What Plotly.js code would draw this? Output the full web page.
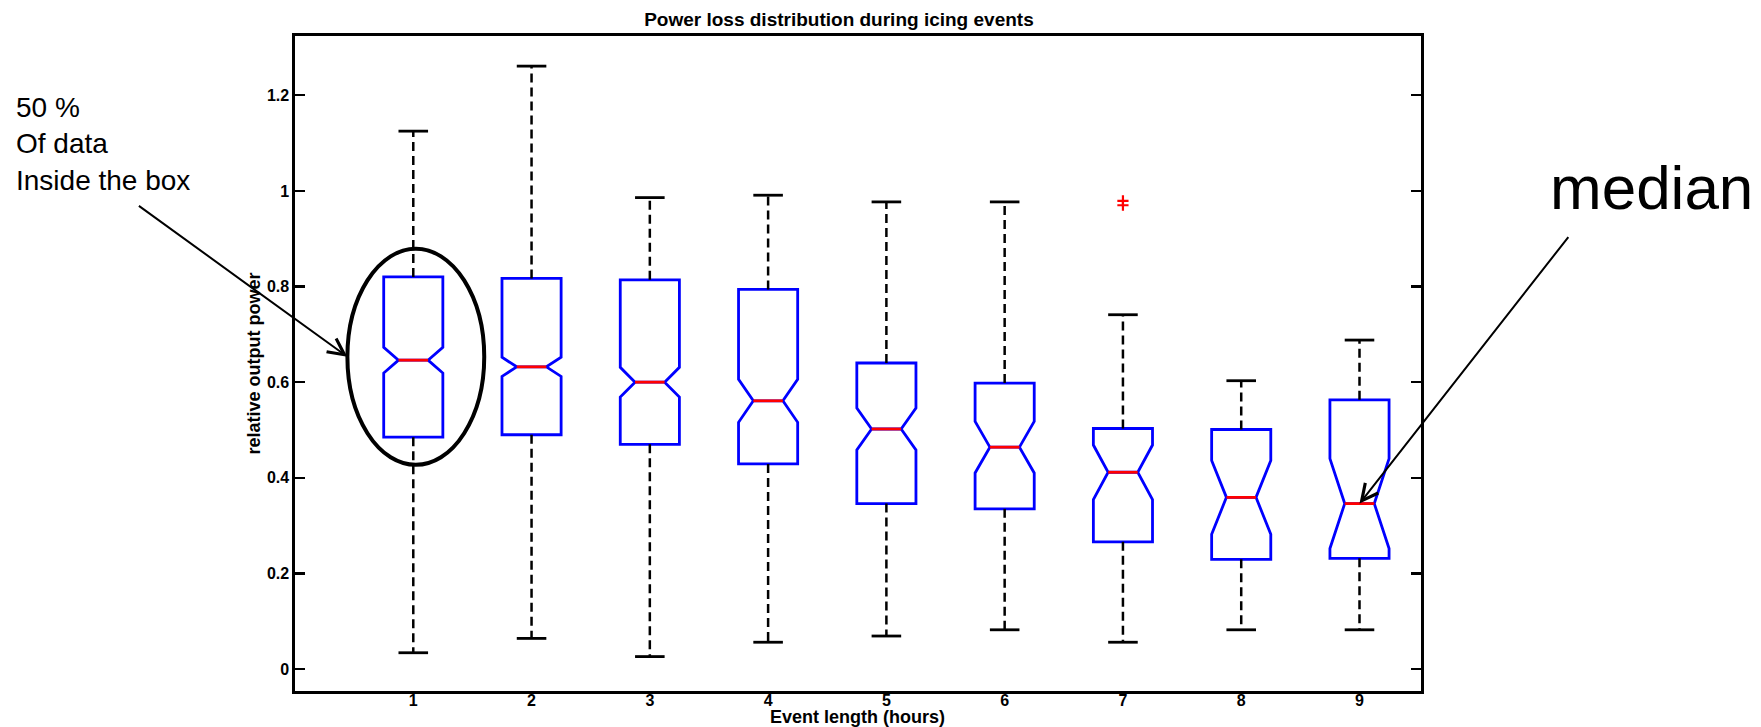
<!DOCTYPE html>
<html>
<head>
<meta charset="utf-8">
<script src="https://cdn.plot.ly/plotly-3.0.1.min.js"></script>
<style>
  html, body { margin: 0; padding: 0; background: #fff; }
  #chart { width: 1761px; height: 727px; }
</style>
</head>
<body>
<div id="chart"></div>
<script>
// ---- data ----
const categories = [1, 2, 3, 4, 5, 6, 7, 8, 9];
const upperWhisker = [1.125, 1.261, 0.986, 0.991, 0.977, 0.977, 0.741, 0.603, 0.688];
const q3Values     = [0.820, 0.817, 0.814, 0.794, 0.640, 0.598, 0.503, 0.501, 0.563];
const medianValues = [0.646, 0.632, 0.600, 0.561, 0.502, 0.464, 0.4115, 0.359, 0.346];
const q1Values     = [0.485, 0.490, 0.470, 0.429, 0.346, 0.335, 0.266, 0.2295, 0.2316];
const lowerWhisker = [0.034, 0.064, 0.026, 0.056, 0.069, 0.082, 0.056, 0.082, 0.082];
const notchSpans   = [0.027, 0.020, 0.031, 0.045, 0.044, 0.054, 0.057, 0.077, 0.094];
const outlierX = [7, 7];
const outlierY = [0.979, 0.970];
const yTickVals = [0, 0.2, 0.4, 0.6, 0.8, 1, 1.2];
const yTickText = ['0', '0.2', '0.4', '0.6', '0.8', '1', '1.2'];

// ---- styling constants ----
const BOX_WIDTH = 0.5;
const NOTCH_WIDTH = 0.25;
const CAP_HALF = BOX_WIDTH / 4;
const MED_HALF = (BOX_WIDTH / 2) * (1 - 2 * NOTCH_WIDTH);
const FONT = 'Liberation Sans, Arial, sans-serif';

// whiskers (dashed) built from the arrays
const wx = [], wy = [];
categories.forEach((c, i) => {
  wx.push(c, c, null, c, c, null);
  wy.push(q3Values[i], upperWhisker[i], null, q1Values[i], lowerWhisker[i], null);
});
// caps
const cx = [], cy = [];
categories.forEach((c, i) => {
  cx.push(c - CAP_HALF, c + CAP_HALF, null, c - CAP_HALF, c + CAP_HALF, null);
  cy.push(upperWhisker[i], upperWhisker[i], null, lowerWhisker[i], lowerWhisker[i], null);
});
// medians
const mx = [], my = [];
categories.forEach((c, i) => {
  mx.push(c - MED_HALF, c + MED_HALF, null);
  my.push(medianValues[i], medianValues[i], null);
});

const traces = [
  {
    type: 'scatter', mode: 'lines', x: wx, y: wy,
    line: { color: 'black', width: 2.5, dash: '9px,5px' },
    hoverinfo: 'skip', showlegend: false
  },
  {
    type: 'box',
    x: categories,
    q1: q1Values,
    median: medianValues,
    q3: q3Values,
    lowerfence: q1Values,
    upperfence: q3Values,
    notched: true,
    notchspan: notchSpans,
    notchwidth: NOTCH_WIDTH,
    width: BOX_WIDTH,
    whiskerwidth: 0,
    boxpoints: false,
    line: { color: 'rgb(0,0,255)', width: 2.8 },
    fillcolor: 'rgba(0,0,0,0)',
    hoverinfo: 'skip',
    showlegend: false
  },
  {
    type: 'scatter', mode: 'lines', x: cx, y: cy,
    line: { color: 'black', width: 2.8 },
    hoverinfo: 'skip', showlegend: false
  },
  {
    type: 'scatter', mode: 'lines', x: mx, y: my,
    line: { color: 'rgb(255,0,0)', width: 2.8 },
    hoverinfo: 'skip', showlegend: false
  },
  {
    type: 'scatter', mode: 'markers', x: outlierX, y: outlierY,
    marker: { symbol: 'cross-thin', size: 8, color: 'rgb(255,0,0)', line: { color: 'rgb(255,0,0)', width: 2.2 } },
    hoverinfo: 'skip', showlegend: false
  }
];

const layout = {
  width: 1761,
  height: 727,
  paper_bgcolor: 'white',
  plot_bgcolor: 'white',
  margin: { l: 295, r: 340, t: 36, b: 36, pad: 0 },
  font: { family: FONT, color: 'black' },
  title: {
    text: 'Power loss distribution during icing events',
    font: { family: FONT, size: 19, weight: 'bold', color: 'black' },
    xref: 'container', x: 0.4764, xanchor: 'center',
    yref: 'container', y: 0.973, yanchor: 'middle'
  },
  xaxis: {
    range: [0, 9.52],
    tickmode: 'array',
    tickvals: categories,
    ticktext: categories.map(String),
    ticks: '',
    ticklabelstandoff: -7,
    showgrid: false,
    zeroline: false,
    showline: true,
    mirror: true,
    linecolor: 'black',
    linewidth: 2.6,
    tickfont: { family: FONT, size: 16, weight: 'bold', color: 'black' },
    automargin: false
  },
  yaxis: {
    range: [-0.046, 1.324],
    tickmode: 'array',
    tickvals: yTickVals,
    ticktext: yTickText,
    ticks: 'inside',
    ticklen: 10,
    tickwidth: 2.4,
    tickcolor: 'black',
    showgrid: false,
    zeroline: false,
    showline: true,
    mirror: 'ticks',
    linecolor: 'black',
    linewidth: 2.6,
    tickfont: { family: FONT, size: 16, weight: 'bold', color: 'black' },
    title: {
      text: 'relative output power',
      font: { family: FONT, size: 18, weight: 'bold', color: 'black' },
      standoff: 2
    },
    automargin: false
  },
  shapes: [
    {
      type: 'circle', xref: 'x', yref: 'y',
      x0: 0.443, x1: 1.60, y0: 0.427, y1: 0.879,
      line: { color: 'black', width: 4 }
    }
  ],
  annotations: [
    {
      xref: 'paper', yref: 'paper',
      x: (857 - 295) / 1126, y: (691 - 717) / 655,
      xanchor: 'center', yanchor: 'middle',
      text: 'Event length (hours)', showarrow: false,
      font: { family: FONT, size: 18, weight: 'bold', color: 'black' }
    },
    {
      xref: 'paper', yref: 'paper',
      x: (14 - 295) / 1126, y: (691 - 90) / 655,
      xanchor: 'left', yanchor: 'top', align: 'left',
      text: '50 %<br>Of data<br>Inside the box',
      showarrow: false,
      font: { family: FONT, size: 28, color: 'black' }
    },
    {
      xref: 'x', yref: 'y', x: 0.443, y: 0.653,
      ax: -210, ay: -152, axref: 'pixel', ayref: 'pixel',
      text: '', showarrow: true, arrowhead: 5, arrowsize: 1.6, arrowwidth: 2, arrowcolor: 'black',
      standoff: 0
    },
    {
      xref: 'paper', yref: 'paper',
      x: (1651 - 295) / 1126, y: (691 - 188) / 655,
      xanchor: 'center', yanchor: 'middle',
      text: 'median', showarrow: false,
      font: { family: FONT, size: 62, color: 'black' }
    },
    {
      xref: 'x', yref: 'y', x: 9.0, y: 0.346,
      ax: 210, ay: -268, axref: 'pixel', ayref: 'pixel',
      text: '', showarrow: true, arrowhead: 5, arrowsize: 1.6, arrowwidth: 2, arrowcolor: 'black',
      standoff: 0
    }
  ]
};

Plotly.newPlot('chart', traces, layout, { displayModeBar: false, staticPlot: true });
</script>
</body>
</html>
